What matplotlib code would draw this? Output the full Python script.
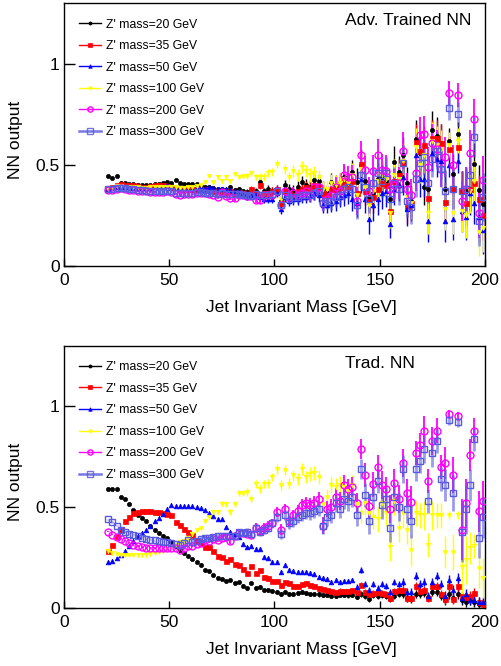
import numpy as np
import matplotlib
matplotlib.use("Agg")
import matplotlib.pyplot as plt
from matplotlib.lines import Line2D

plt.rcParams['font.family'] = ['Liberation Sans', 'DejaVu Sans']

# bin centres of the jet invariant mass [GeV]
mass = np.arange(21, 200, 2)

labels = ["Z' mass=20 GeV", "Z' mass=35 GeV", "Z' mass=50 GeV",
          "Z' mass=100 GeV", "Z' mass=200 GeV", "Z' mass=300 GeV"]
x_ticks = [0, 50, 100, 150, 200]
x_ticklabels = ["0", "50", "100", "150", "200"]
y_ticks = [0, 0.5, 1]
y_ticklabels = ["0", "0.5", "1"]

# ---------------- Adversarially trained NN (top panel) ----------------
adv_20 = [0.443, 0.437, 0.445, 0.41, 0.41, 0.405, 0.405, 0.40, 0.40, 0.40,
          0.40, 0.405, 0.405, 0.41, 0.415, 0.41, 0.425, 0.41, 0.405, 0.405,
          0.405, 0.405, 0.395, 0.39, 0.39, 0.385, 0.38, 0.38, 0.375, 0.39,
          0.375, 0.38, 0.37, 0.365, 0.37, 0.37, 0.415, 0.37, 0.38, 0.37,
          0.38, 0.32, 0.40, 0.38, 0.37, 0.39, 0.415, 0.40, 0.39, 0.427,
          0.42, 0.38, 0.36, 0.415, 0.40, 0.41, 0.44, 0.40, 0.464, 0.415,
          0.50, 0.42, 0.34, 0.36, 0.43, 0.44, 0.42, 0.33, 0.514, 0.464,
          0.55, 0.41, 0.32, 0.63, 0.56, 0.39, 0.38, 0.674, 0.645, 0.61,
          0.38, 0.62, 0.453, 0.654, 0.37, 0.37, 0.38, 0.506, 0.377, 0.308]
adv_35 = [0.385, 0.39, 0.40, 0.405, 0.40, 0.40, 0.40, 0.395, 0.39, 0.39,
          0.395, 0.40, 0.40, 0.40, 0.395, 0.39, 0.39, 0.385, 0.38, 0.38,
          0.38, 0.38, 0.375, 0.38, 0.375, 0.37, 0.37, 0.37, 0.365, 0.37,
          0.36, 0.365, 0.36, 0.35, 0.38, 0.36, 0.40, 0.36, 0.36, 0.37,
          0.38, 0.31, 0.37, 0.36, 0.35, 0.37, 0.38, 0.39, 0.38, 0.40,
          0.39, 0.36, 0.35, 0.38, 0.38, 0.39, 0.42, 0.39, 0.42, 0.36,
          0.506, 0.37, 0.32, 0.34, 0.38, 0.41, 0.40, 0.27, 0.42, 0.45,
          0.51, 0.29, 0.31, 0.613, 0.57, 0.60, 0.338, 0.634, 0.634, 0.61,
          0.316, 0.58, 0.38, 0.59, 0.37, 0.31, 0.38, 0.41, 0.33, 0.25]
adv_50 = [0.38, 0.385, 0.39, 0.39, 0.39, 0.39, 0.385, 0.385, 0.385, 0.385,
          0.385, 0.39, 0.39, 0.395, 0.40, 0.39, 0.39, 0.385, 0.385, 0.38,
          0.38, 0.385, 0.385, 0.385, 0.39, 0.385, 0.38, 0.38, 0.38, 0.375,
          0.37, 0.37, 0.36, 0.34, 0.35, 0.35, 0.34, 0.33, 0.33, 0.33,
          0.36, 0.28, 0.34, 0.32, 0.33, 0.33, 0.34, 0.34, 0.35, 0.36,
          0.35, 0.30, 0.30, 0.31, 0.32, 0.34, 0.35, 0.36, 0.33, 0.31,
          0.43, 0.33, 0.23, 0.30, 0.33, 0.36, 0.37, 0.21, 0.38, 0.40,
          0.44, 0.28, 0.30, 0.55, 0.43, 0.43, 0.22, 0.56, 0.53, 0.52,
          0.22, 0.50, 0.23, 0.52, 0.27, 0.24, 0.36, 0.31, 0.24, 0.18]
adv_100 = [0.38, 0.385, 0.395, 0.395, 0.39, 0.39, 0.39, 0.39, 0.385, 0.385,
           0.39, 0.39, 0.39, 0.39, 0.39, 0.39, 0.39, 0.385, 0.385, 0.39,
           0.39, 0.395, 0.40, 0.415, 0.445, 0.415, 0.44, 0.42, 0.44, 0.42,
           0.455, 0.44, 0.445, 0.445, 0.46, 0.44, 0.44, 0.44, 0.46, 0.465,
           0.505, 0.33, 0.48, 0.44, 0.47, 0.45, 0.49, 0.47, 0.45, 0.46,
           0.44, 0.38, 0.38, 0.41, 0.40, 0.41, 0.43, 0.41, 0.45, 0.35,
           0.48, 0.39, 0.30, 0.37, 0.42, 0.45, 0.43, 0.26, 0.45, 0.43,
           0.52, 0.34, 0.31, 0.59, 0.50, 0.55, 0.26, 0.62, 0.60, 0.58,
           0.28, 0.60, 0.26, 0.62, 0.27, 0.25, 0.37, 0.42, 0.17, 0.19]
adv_200 = [0.375, 0.375, 0.38, 0.385, 0.38, 0.375, 0.375, 0.37, 0.37, 0.37,
           0.365, 0.365, 0.365, 0.365, 0.37, 0.365, 0.355, 0.35, 0.355, 0.355,
           0.355, 0.36, 0.36, 0.36, 0.355, 0.35, 0.34, 0.365, 0.345, 0.335,
           0.335, 0.35, 0.35, 0.345, 0.345, 0.325, 0.325, 0.35, 0.35, 0.35,
           0.37, 0.30, 0.37, 0.34, 0.36, 0.35, 0.36, 0.37, 0.35, 0.39,
           0.39, 0.31, 0.33, 0.35, 0.39, 0.37, 0.45, 0.44, 0.44, 0.32,
           0.55, 0.473, 0.37, 0.47, 0.55, 0.475, 0.47, 0.38, 0.40, 0.41,
           0.57, 0.38, 0.35, 0.46, 0.646, 0.65, 0.49, 0.61, 0.58, 0.48,
           0.54, 0.855, 0.50, 0.845, 0.32, 0.38, 0.56, 0.727, 0.26, 0.424]
adv_300 = [0.38, 0.38, 0.385, 0.385, 0.385, 0.38, 0.38, 0.375, 0.375, 0.37,
           0.37, 0.37, 0.37, 0.37, 0.37, 0.37, 0.36, 0.36, 0.36, 0.36,
           0.36, 0.365, 0.365, 0.36, 0.36, 0.36, 0.355, 0.36, 0.355, 0.355,
           0.355, 0.355, 0.35, 0.35, 0.345, 0.355, 0.35, 0.35, 0.35, 0.355,
           0.37, 0.30, 0.35, 0.33, 0.34, 0.34, 0.35, 0.35, 0.35, 0.36,
           0.37, 0.31, 0.32, 0.32, 0.34, 0.35, 0.38, 0.39, 0.38, 0.30,
           0.45, 0.39, 0.33, 0.41, 0.46, 0.42, 0.46, 0.33, 0.41, 0.38,
           0.51, 0.32, 0.29, 0.43, 0.51, 0.54, 0.41, 0.53, 0.57, 0.48,
           0.37, 0.78, 0.38, 0.75, 0.37, 0.38, 0.45, 0.64, 0.22, 0.34]
adv_err = [0.004] * 25 + [
    0.008, 0.008, 0.01, 0.01, 0.01, 0.012, 0.012, 0.012, 0.015, 0.015,
    0.015, 0.018, 0.018, 0.02, 0.02,
    0.02, 0.025, 0.025, 0.025, 0.03, 0.03, 0.03, 0.03, 0.035, 0.035,
    0.035, 0.04, 0.04, 0.045, 0.05,
    0.05, 0.055, 0.055, 0.06, 0.07, 0.07, 0.07, 0.07, 0.08, 0.08,
    0.08, 0.08, 0.07, 0.08, 0.08,
    0.09, 0.08, 0.08, 0.09, 0.09, 0.09, 0.10, 0.09, 0.09, 0.09,
    0.10, 0.06, 0.10, 0.06, 0.10, 0.11, 0.11, 0.10, 0.12, 0.12]

# ---------------- Traditional NN (bottom panel) ----------------
trad_20 = [0.59, 0.59, 0.59, 0.55, 0.54, 0.516, 0.487, 0.462, 0.446, 0.43,
           0.408, 0.388, 0.375, 0.36, 0.347, 0.33, 0.31, 0.29, 0.275, 0.26,
           0.243, 0.23, 0.212, 0.189, 0.184, 0.163, 0.15, 0.145, 0.133, 0.141,
           0.125, 0.128, 0.112, 0.099, 0.125, 0.102, 0.105, 0.089, 0.089, 0.085,
           0.083, 0.071, 0.079, 0.072, 0.071, 0.076, 0.079, 0.076, 0.072, 0.069,
           0.069, 0.066, 0.066, 0.062, 0.062, 0.067, 0.067, 0.064, 0.067, 0.056,
           0.07, 0.059, 0.048, 0.066, 0.059, 0.067, 0.059, 0.046, 0.062, 0.069,
           0.072, 0.051, 0.048, 0.072, 0.071, 0.076, 0.056, 0.08, 0.08, 0.06,
           0.04, 0.07, 0.05, 0.07, 0.04, 0.03, 0.04, 0.03, 0.02, 0.02]
trad_35 = [0.286, 0.314, 0.36, 0.386, 0.432, 0.452, 0.472, 0.477, 0.48, 0.48,
           0.48, 0.478, 0.477, 0.472, 0.469, 0.46, 0.427, 0.411, 0.391, 0.378,
           0.362, 0.337, 0.321, 0.304, 0.304, 0.283, 0.26, 0.255, 0.235, 0.242,
           0.217, 0.215, 0.194, 0.173, 0.209, 0.176, 0.189, 0.156, 0.151, 0.136,
           0.136, 0.113, 0.131, 0.126, 0.112, 0.112, 0.118, 0.123, 0.113, 0.11,
           0.10, 0.095, 0.09, 0.085, 0.08, 0.087, 0.085, 0.085, 0.09, 0.08,
           0.117, 0.08, 0.07, 0.075, 0.08, 0.075, 0.07, 0.05, 0.085, 0.09,
           0.09, 0.05, 0.05, 0.11, 0.085, 0.09, 0.05, 0.11, 0.11, 0.07,
           0.045, 0.11, 0.045, 0.11, 0.06, 0.055, 0.06, 0.075, 0.03, 0.02]
trad_50 = [0.23, 0.235, 0.25, 0.265, 0.285, 0.31, 0.335, 0.36, 0.375, 0.39,
           0.41, 0.43, 0.445, 0.465, 0.49, 0.51, 0.505, 0.505, 0.505, 0.505,
           0.505, 0.50, 0.495, 0.489, 0.47, 0.455, 0.44, 0.44, 0.403, 0.38,
           0.37, 0.353, 0.32, 0.305, 0.31, 0.296, 0.296, 0.255, 0.247, 0.23,
           0.23, 0.18, 0.216, 0.19, 0.186, 0.18, 0.18, 0.18, 0.175, 0.17,
           0.155, 0.148, 0.145, 0.13, 0.14, 0.13, 0.135, 0.135, 0.14, 0.107,
           0.19, 0.12, 0.09, 0.12, 0.10, 0.12, 0.11, 0.08, 0.13, 0.12,
           0.13, 0.08, 0.08, 0.16, 0.12, 0.13, 0.06, 0.13, 0.16, 0.12,
           0.06, 0.14, 0.09, 0.15, 0.05, 0.07, 0.04, 0.04, 0.03, 0.03]
trad_100 = [0.284, 0.274, 0.267, 0.262, 0.262, 0.262, 0.262, 0.262, 0.262, 0.265,
            0.267, 0.274, 0.279, 0.285, 0.296, 0.305, 0.315, 0.33, 0.335, 0.35,
            0.367, 0.386, 0.40, 0.432, 0.452, 0.477, 0.477, 0.518, 0.515, 0.477,
            0.518, 0.57, 0.57, 0.576, 0.543, 0.617, 0.593, 0.617, 0.617, 0.65,
            0.69, 0.609, 0.683, 0.617, 0.658, 0.642, 0.69, 0.65, 0.666, 0.669,
            0.65, 0.518, 0.551, 0.609, 0.60, 0.612, 0.60, 0.58, 0.61, 0.518,
            0.47, 0.52, 0.47, 0.452, 0.44, 0.52, 0.47, 0.304, 0.53, 0.40,
            0.47, 0.39, 0.288, 0.47, 0.46, 0.46, 0.313, 0.46, 0.46, 0.46,
            0.28, 0.46, 0.28, 0.46, 0.205, 0.24, 0.30, 0.31, 0.20, 0.15]
trad_200 = [0.38, 0.365, 0.353, 0.345, 0.335, 0.325, 0.312, 0.31, 0.304, 0.30,
            0.30, 0.30, 0.30, 0.30, 0.30, 0.30, 0.30, 0.288, 0.30, 0.307,
            0.31, 0.32, 0.325, 0.337, 0.335, 0.345, 0.34, 0.35, 0.355, 0.334,
            0.36, 0.375, 0.375, 0.37, 0.365, 0.40, 0.385, 0.40, 0.41, 0.42,
            0.478, 0.39, 0.49, 0.43, 0.46, 0.48, 0.51, 0.52, 0.51, 0.52,
            0.54, 0.41, 0.49, 0.50, 0.55, 0.53, 0.61, 0.59, 0.60, 0.52,
            0.79, 0.66, 0.506, 0.613, 0.70, 0.61, 0.59, 0.49, 0.62, 0.54,
            0.72, 0.57, 0.526, 0.77, 0.81, 0.88, 0.63, 0.83, 0.88, 0.70,
            0.72, 0.96, 0.66, 0.95, 0.39, 0.52, 0.76, 0.88, 0.48, 0.53]
trad_300 = [0.44, 0.428, 0.41, 0.39, 0.38, 0.37, 0.365, 0.36, 0.35, 0.344,
            0.34, 0.336, 0.335, 0.33, 0.33, 0.323, 0.32, 0.315, 0.325, 0.337,
            0.33, 0.335, 0.345, 0.35, 0.35, 0.355, 0.36, 0.36, 0.36, 0.36,
            0.36, 0.38, 0.375, 0.38, 0.37, 0.40, 0.38, 0.39, 0.40, 0.42,
            0.45, 0.37, 0.46, 0.42, 0.43, 0.45, 0.46, 0.47, 0.47, 0.48,
            0.49, 0.41, 0.45, 0.46, 0.52, 0.49, 0.54, 0.53, 0.55, 0.46,
            0.69, 0.56, 0.43, 0.55, 0.63, 0.51, 0.54, 0.40, 0.55, 0.50,
            0.69, 0.49, 0.43, 0.69, 0.73, 0.79, 0.53, 0.77, 0.83, 0.64,
            0.61, 0.93, 0.57, 0.92, 0.38, 0.49, 0.61, 0.84, 0.35, 0.45]
trad_err_sig = [0.004] * 20 + [
    0.006, 0.006, 0.008, 0.008, 0.01, 0.01, 0.01, 0.012, 0.012, 0.015,
    0.015, 0.015, 0.015, 0.018, 0.018, 0.02, 0.02, 0.02, 0.022, 0.022,
    0.025, 0.025, 0.025, 0.028, 0.028, 0.03, 0.03, 0.03, 0.035, 0.035,
    0.035, 0.04, 0.04, 0.04, 0.045, 0.045, 0.05, 0.05, 0.05, 0.05,
    0.05, 0.06, 0.06, 0.06, 0.06, 0.07, 0.06, 0.07, 0.07, 0.07,
    0.07, 0.07, 0.08, 0.06, 0.06, 0.07, 0.06, 0.07, 0.06, 0.06,
    0.08, 0.02, 0.09, 0.02, 0.15, 0.12, 0.08, 0.06, 0.10, 0.10]
trad_err_bkg = [0.003] * 30 + [
    0.005, 0.005, 0.006, 0.006, 0.007, 0.008, 0.008, 0.008, 0.009, 0.009] + \
    [0.01] * 10 + [0.012] * 10 + [0.015] * 10 + [0.02] * 10 + [0.025] * 10

# ---------------- styles ----------------
styles = [
    dict(color='black', ecolor='black', marker='o', ms=3.0, mfc='black', mec='black', mew=0.5, elw=1.0, ealpha=1.0),
    dict(color='#ff0000', ecolor='#ff0000', marker='s', ms=3.6, mfc='#ff0000', mec='#ff0000', mew=0.5, elw=1.0, ealpha=1.0),
    dict(color='#0000ff', ecolor='#0000ff', marker='^', ms=3.4, mfc='#0000ff', mec='#0000ff', mew=0.5, elw=1.0, ealpha=1.0),
    dict(color='#ffff00', ecolor='#ffff00', marker='v', ms=3.2, mfc='#ffff00', mec='#ffff00', mew=0.5, elw=1.0, ealpha=1.0),
    dict(color='#ff00ff', ecolor='#ff00ff', marker='o', ms=5.0, mfc='none', mec='#ff00ff', mew=1.0, elw=1.3, ealpha=1.0),
    dict(color='#6060e0', ecolor='#5a5ae0', marker='s', ms=5.0, mfc='none', mec='#5a5ae0', mew=1.0, elw=2.0, ealpha=0.6),
]

FS = 12.5

fig = plt.figure(figsize=(5.02, 6.66), dpi=100)
ax_top = fig.add_axes([0.1275, 0.6006, 0.8386, 0.3949])
ax_bot = fig.add_axes([0.1275, 0.0866, 0.8386, 0.3943])

panels = [
    (ax_top, [adv_20, adv_35, adv_50, adv_100, adv_200, adv_300],
     [adv_err] * 6, "Adv. Trained NN"),
    (ax_bot, [trad_20, trad_35, trad_50, trad_100, trad_200, trad_300],
     [trad_err_bkg] * 3 + [trad_err_sig] * 3, "Trad. NN"),
]

for ax, series, errs, title in panels:
    for vals, err, st in zip(series, errs, styles):
        ax.errorbar(mass, vals, yerr=err, fmt='none', ecolor=st['ecolor'],
                    elinewidth=st['elw'], alpha=st['ealpha'], capsize=0, zorder=2)
        ax.plot(mass, vals, linestyle='none', marker=st['marker'], ms=st['ms'],
                mfc=st['mfc'], mec=st['mec'], mew=st['mew'], zorder=3)
    ax.set_xlim(0, 200)
    ax.set_ylim(0, 1.3)
    ax.set_xticks(x_ticks)
    ax.set_xticklabels(x_ticklabels, fontsize=FS)
    ax.set_yticks(y_ticks)
    ax.set_yticklabels(y_ticklabels, fontsize=FS)
    ax.tick_params(axis='x', direction='in', length=5, width=1, pad=5,
                   top=False)
    ax.tick_params(axis='y', direction='in', length=8, width=1, pad=3,
                   right=False)
    for sp in ax.spines.values():
        sp.set_linewidth(1.0)
    ax.set_xlabel("Jet Invariant Mass [GeV]", fontsize=FS)
    ax.xaxis.set_label_coords(0.565, -0.128)
    ax.set_ylabel("NN output", fontsize=FS)
    ax.yaxis.set_label_coords(-0.097, 0.48)
    ax.text(0.667, 0.932, title, transform=ax.transAxes, fontsize=FS,
            ha='left', va='center')
    handles = []
    for st in styles:
        handles.append(Line2D([], [], color=st['color'],
                              lw=1.0 if st['elw'] < 2 else 1.8,
                              alpha=1.0 if st['ealpha'] == 1 else 0.85,
                              marker=st['marker'], ms=st['ms'] * 0.75,
                              mfc=st['mfc'], mec=st['mec'], mew=st['mew']))
    ax.legend(handles, labels, loc='upper left', bbox_to_anchor=(0.035, 0.941),
              frameon=False, fontsize=8.8, handlelength=1.8, handletextpad=0.4,
              labelspacing=0.78, borderpad=0, borderaxespad=0)

for vals in [adv_20, adv_35, adv_50, adv_100, adv_200, adv_300, adv_err,
             trad_20, trad_35, trad_50, trad_100, trad_200, trad_300,
             trad_err_sig, trad_err_bkg]:
    assert len(vals) == len(mass), len(vals)

fig.savefig("out.png", dpi=100)
